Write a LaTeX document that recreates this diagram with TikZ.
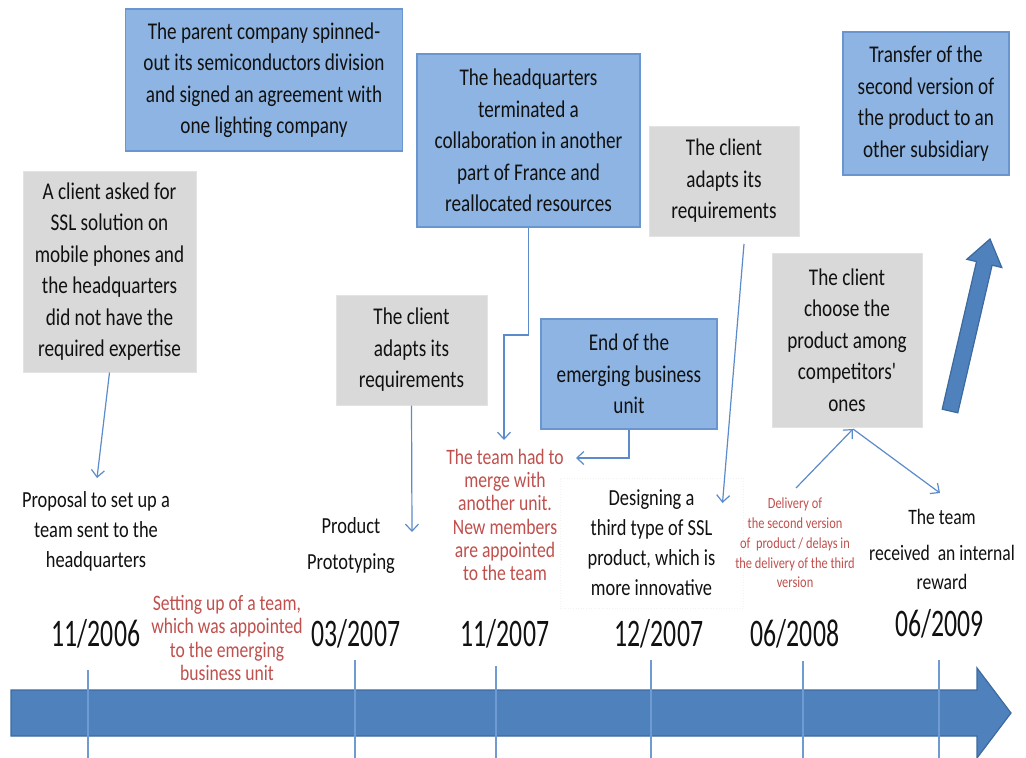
\documentclass[tikz,border=0pt]{standalone}
\usepackage{fontspec}
\setmainfont{Carlito}
\newfontfamily\cbf[FakeStretch=0.8]{Carlito}
\newfontfamily\cdf[FakeStretch=0.66]{Carlito}
\usetikzlibrary{arrows.meta}
\definecolor{bfill}{HTML}{8DB4E2}
\definecolor{bdraw}{HTML}{6A96CF}
\definecolor{gfill}{HTML}{D9D9D9}
\definecolor{afill}{HTML}{4F81BD}
\definecolor{adraw}{HTML}{3C6A9E}
\definecolor{conncol}{HTML}{5B8BCB}
\definecolor{tickcol}{HTML}{6F9BD2}
\definecolor{redt}{HTML}{C0504D}
\definecolor{txt}{HTML}{111111}
\begin{document}
\begin{tikzpicture}[x=1pt,y=-1pt,
  bluebox/.style={draw=bdraw, line width=1.2pt, fill=bfill, inner sep=0pt, align=center, text=txt,
    font=\cbf\fontsize{24}{31.5}\selectfont},
  graybox/.style={draw=gray!22, line width=1pt, fill=gfill, inner sep=0pt, align=center, text=txt,
    font=\cbf\fontsize{24}{31.5}\selectfont},
  evlabel/.style={align=center, inner sep=0pt, text=txt, font=\cbf\fontsize{23}{30}\selectfont},
  datelbl/.style={inner sep=0pt, text=txt, font=\cdf\fontsize{39}{40}\selectfont},
  redlbl/.style={text=redt, align=center, inner sep=0pt, font=\cbf\fontsize{22}{23.3}\selectfont},
  smallred/.style={text=redt, align=center, inner sep=0pt, font=\cbf\fontsize{15.5}{19.8}\selectfont},
  conn/.style={draw=conncol, line width=1.2pt, -{Straight Barb[length=7pt,width=13pt]}},
  tick/.style={draw=tickcol, line width=1.3pt},
  bigarrow/.style={fill=afill, draw=adraw, line width=1.2pt, line join=miter}
]
\useasboundingbox (0,0) rectangle (1026,758);
\fill[white] (0,0) rectangle (1026,758);

% timeline arrow
\path[bigarrow] (11,690) -- (977,690) -- (977,668) -- (1011,713) -- (977,758) -- (977,736) -- (11,736) -- cycle;
% diagonal arrow
\path[bigarrow] (942.2,409.2) -- (976.5,261.6) -- (966.8,259.3) -- (990,239) -- (1001.8,267.5) -- (992.1,265.2) -- (957.8,412.8) -- cycle;

% ticks
\coordinate (t1) at (88,670);   \coordinate (b1) at (88,758);
\coordinate (t2) at (355,660);  \coordinate (b2) at (355,758);
\coordinate (t3) at (496,666);  \coordinate (b3) at (496,758);
\coordinate (t4) at (651,660);  \coordinate (b4) at (651,758);
\coordinate (t5) at (803,661);  \coordinate (b5) at (803,758);
\coordinate (t6) at (939,660);  \coordinate (b6) at (939,758);
\foreach \i in {1,...,6} \draw[tick] (t\i) -- (b\i);

% boxes
\node[bluebox, minimum width=277pt, minimum height=142pt] (boxA) at (264,80)
  {The parent company spinned-\\out its semiconductors division\\and signed an agreement with\\one lighting company};
\node[graybox, minimum width=173pt, minimum height=201pt] (boxB) at (109.5,271.5)
  {A client asked for\\SSL solution on\\mobile phones and\\the headquarters\\did not have the\\required expertise};
\node[bluebox, minimum width=223pt, minimum height=173pt] (boxC) at (528.5,140.5)
  {The headquarters\\terminated a\\collaboration in another\\part of France and\\reallocated resources};
\node[graybox, minimum width=150pt, minimum height=110pt] (boxD) at (724,181)
  {The client\\adapts its\\requirements};
\node[graybox, minimum width=151pt, minimum height=110pt] (boxE) at (411.5,350)
  {The client\\adapts its\\requirements};
\node[bluebox, minimum width=176pt, minimum height=110pt] (boxF) at (629,374)
  {End of the\\emerging business\\unit};
\node[graybox, minimum width=150pt, minimum height=174pt] (boxG) at (847,340)
  {The client\\choose the\\product among\\competitors'\\ones};
\node[bluebox, minimum width=166pt, minimum height=143pt] (boxH) at (926,103.5)
  {Transfer of the\\second version of\\the product to an\\other subsidiary};

% event labels
\node[evlabel] (proposal) at (96,531.5) {Proposal to set up a\\team sent to the\\headquarters};
\node[evlabel, font=\cbf\fontsize{23}{36}\selectfont] (proto) at (351,545) {Product\\Prototyping};
\node[evlabel, draw=black!5, dotted, line width=0.6pt, minimum width=183pt, minimum height=130pt] (design) at (651.5,543)
  {Designing a\\third type of SSL\\product, which is\\more innovative};
\node[evlabel, font=\cbf\fontsize{22}{29}\selectfont] (reward) at (942,549) {The team\\[7pt]received\ \ an internal\\reward};

% red labels
\node[redlbl] (setting) at (227,638) {Setting up of a team,\\which was appointed\\to the emerging\\business unit};
\node[redlbl] (merge) at (505,515) {The team had to\\merge with\\another unit.\\New members\\are appointed\\to the team};
\node[smallred] (delivery) at (795,543) {Delivery of\\the second version\\of\ \ product / delays in\\the delivery of the third\\version};

% dates
\node[datelbl] (d1) at (96,634) {11/2006};
\node[datelbl] (d2) at (356,634) {03/2007};
\node[datelbl] (d3) at (505,634) {11/2007};
\node[datelbl] (d4) at (659,634) {12/2007};
\node[datelbl] (d5) at (795,634) {06/2008};
\node[datelbl] (d6) at (939.5,624) {06/2009};

% connectors
\coordinate (e1) at (97,478);
\draw[conn] (boxB.south) -- (e1);
\coordinate (e2) at (412,532);
\draw[conn] (boxE.south) -- (e2);
\coordinate (c3a) at (504,335);
\coordinate (e3) at (504,440);
\draw[conn] (boxC.south) |- (c3a) -- (e3);
\coordinate (e4) at (576,458);
\draw[conn] (boxF.south) |- (e4);
\coordinate (s5) at (744,244);
\coordinate (e5) at (722.5,503);
\draw[conn] (s5) -- (e5);
\coordinate (s6) at (796,488);
\coordinate (g6) at (853,429);
\draw[conn] (s6) -- (g6);
\coordinate (e7) at (940,493);
\draw[conn] (g6) -- (e7);
\end{tikzpicture}
\end{document}
